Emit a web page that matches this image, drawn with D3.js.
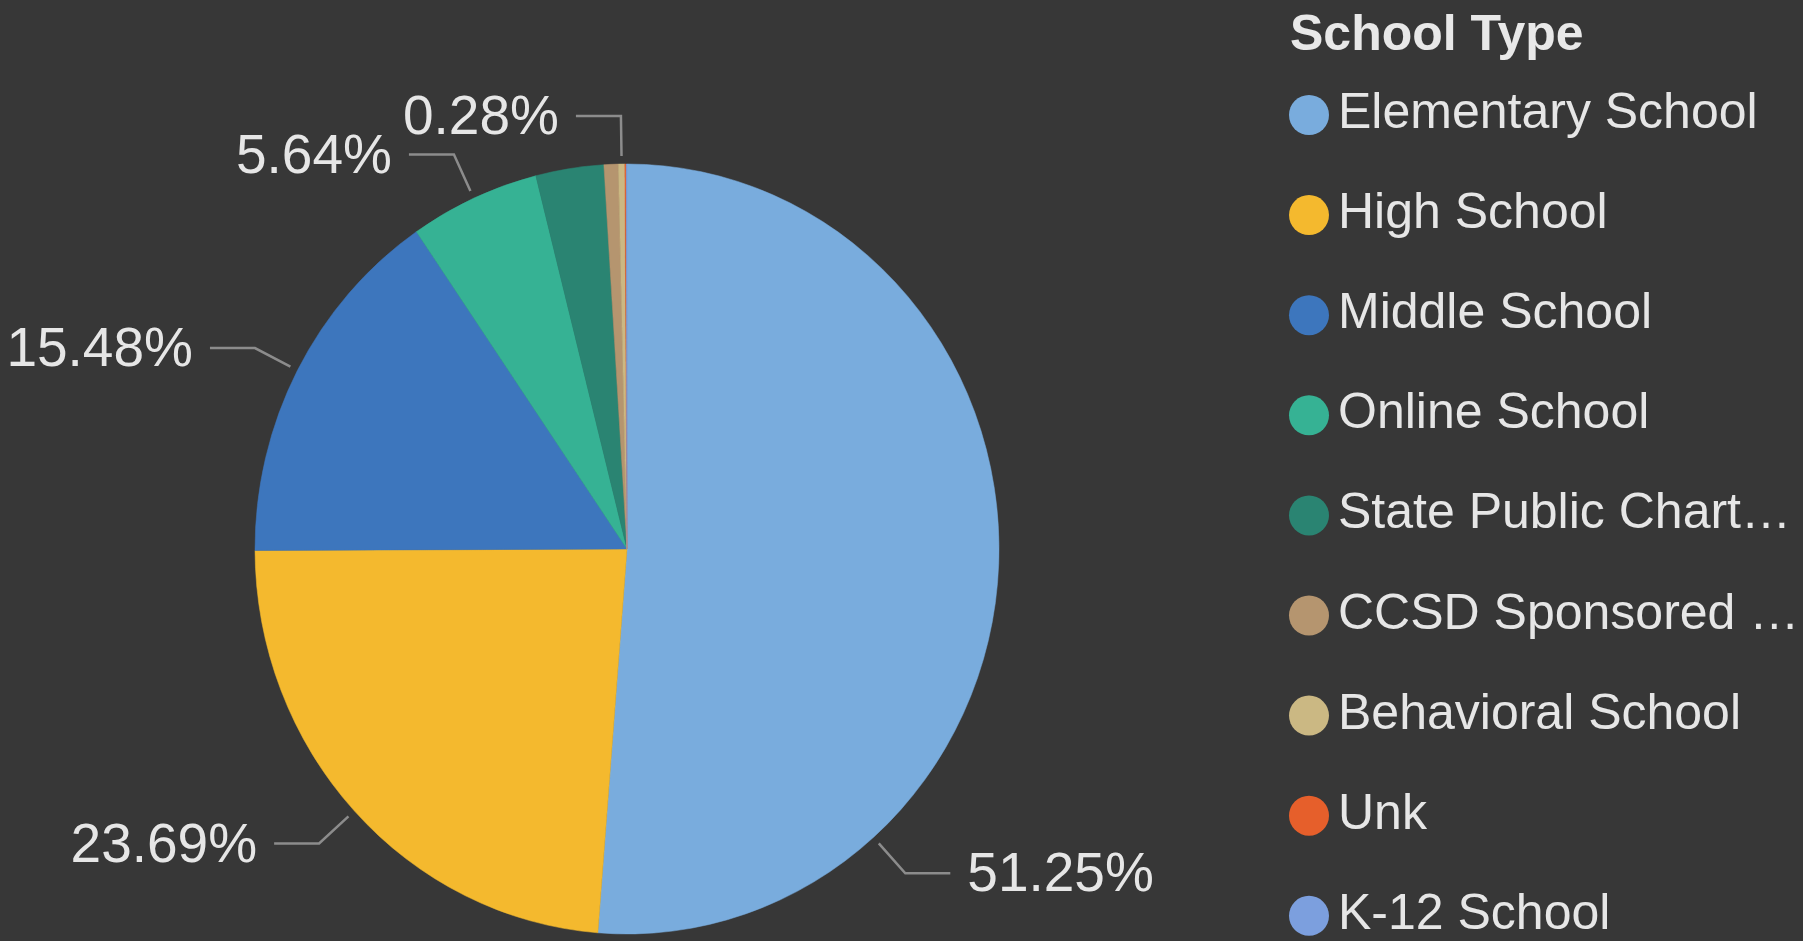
<!DOCTYPE html>
<html lang="en">
<head>
  <meta charset="UTF-8">
  <title>School Type</title>
  <style>
    body { margin: 0; overflow: hidden; background: #373737; }
    svg { display: block; }
    text { font-family: Arial, "Liberation Sans", sans-serif; }
    .pct { font-size: 55px; fill: #e6e6e6; }
    .leader { fill: none; stroke: #8c8c8c; stroke-width: 2.5px; }
    .legend-title { font-size: 50px; font-weight: bold; fill: #e8e8e8; }
    .legend-item { font-size: 50px; fill: #e6e6e6; }
  </style>
</head>
<body>
  <script src="https://d3js.org/d3.v7.min.js"></script>
  <script>
    // share of schools by type (percent)
    const schoolTypes = ["Elementary School", "High School", "Middle School", "Online School",
      "State Public Charter School", "CCSD Sponsored Charter School", "Behavioral School", "Unk", "K-12 School"];
    const legendNames = ["Elementary School", "High School", "Middle School", "Online School",
      "State Public Chart\u2026", "CCSD Sponsored \u2026", "Behavioral School", "Unk", "K-12 School"];
    const shares = [51.25, 23.69, 15.48, 5.64, 2.95, 0.62, 0.28, 0.06, 0.03];
    const colors = ["#79acdd", "#f4b92e", "#3d76bd", "#36b294", "#2a8472", "#b5956f", "#cbb883", "#e65f2b", "#7c9fde"];
    // slices that Power BI shows a data label for
    const labeledTypes = ["Elementary School", "High School", "Middle School", "Online School", "Behavioral School"];

    const width = 1803, height = 941;
    const cx = 627, cy = 549, rx = 372, ry = 385;

    const data = schoolTypes.map((t, i) => ({type: t, legend: legendNames[i], value: shares[i]}));
    const total = d3.sum(shares);
    const color = d3.scaleOrdinal().domain(schoolTypes).range(colors);
    const fmt = d3.format(".2%");

    const svg = d3.select("body").append("svg").attr("width", width).attr("height", height);

    const pie = d3.pie().sort(null).value(d => d.value);
    const arc = d3.arc().innerRadius(0).outerRadius(rx);
    const arcs = pie(data);

    // pie is slightly taller than wide in the reference
    const g = svg.append("g").attr("transform", `translate(${cx},${cy}) scale(1,${ry / rx})`);
    g.selectAll("path").data(arcs).enter().append("path")
      .attr("d", arc)
      .attr("fill", d => color(d.data.type))
      .attr("stroke", d => color(d.data.type))
      .attr("stroke-width", 0.5);

    // labels + leader lines
    const angleOverride = {"Elementary School": 138.5 * Math.PI / 180};
    const offset = 8, radial = 40, horiz = 45, gap = 17;
    const labels = svg.append("g");
    arcs.filter(d => labeledTypes.includes(d.data.type)).forEach(d => {
      const a = angleOverride[d.data.type] ?? (d.startAngle + d.endAngle) / 2;
      const sx = Math.sin(a), sy = -Math.cos(a);
      const p0 = [cx + (rx + offset) * sx, cy + (ry + offset) * sy];
      const p1 = [p0[0] + radial * sx, p0[1] + radial * sy];
      const right = sx >= 0;
      const p2 = [p1[0] + (right ? horiz : -horiz), p1[1]];
      labels.append("path").attr("class", "leader")
        .attr("d", d3.line()([p0, p1, p2]));
      labels.append("text").attr("class", "pct")
        .attr("x", p2[0] + (right ? gap : -gap))
        .attr("y", p1[1])
        .attr("dy", "0.33em")
        .attr("text-anchor", right ? "start" : "end")
        .text(fmt(d.data.value / total));
    });

    // legend
    const legend = svg.append("g").attr("transform", "translate(1290,0)");
    legend.append("text").attr("class", "legend-title").attr("x", 0).attr("y", 50).text("School Type");
    const step = 100.1;
    const item = legend.selectAll("g.item").data(data).enter().append("g")
      .attr("class", "item")
      .attr("transform", (d, i) => `translate(0,${115 + i * step})`);
    item.append("circle").attr("cx", 19).attr("cy", 0).attr("r", 20).attr("fill", d => color(d.type));
    item.append("text").attr("class", "legend-item").attr("x", 48).attr("y", 13).text(d => d.legend);
  </script>
</body>
</html>
